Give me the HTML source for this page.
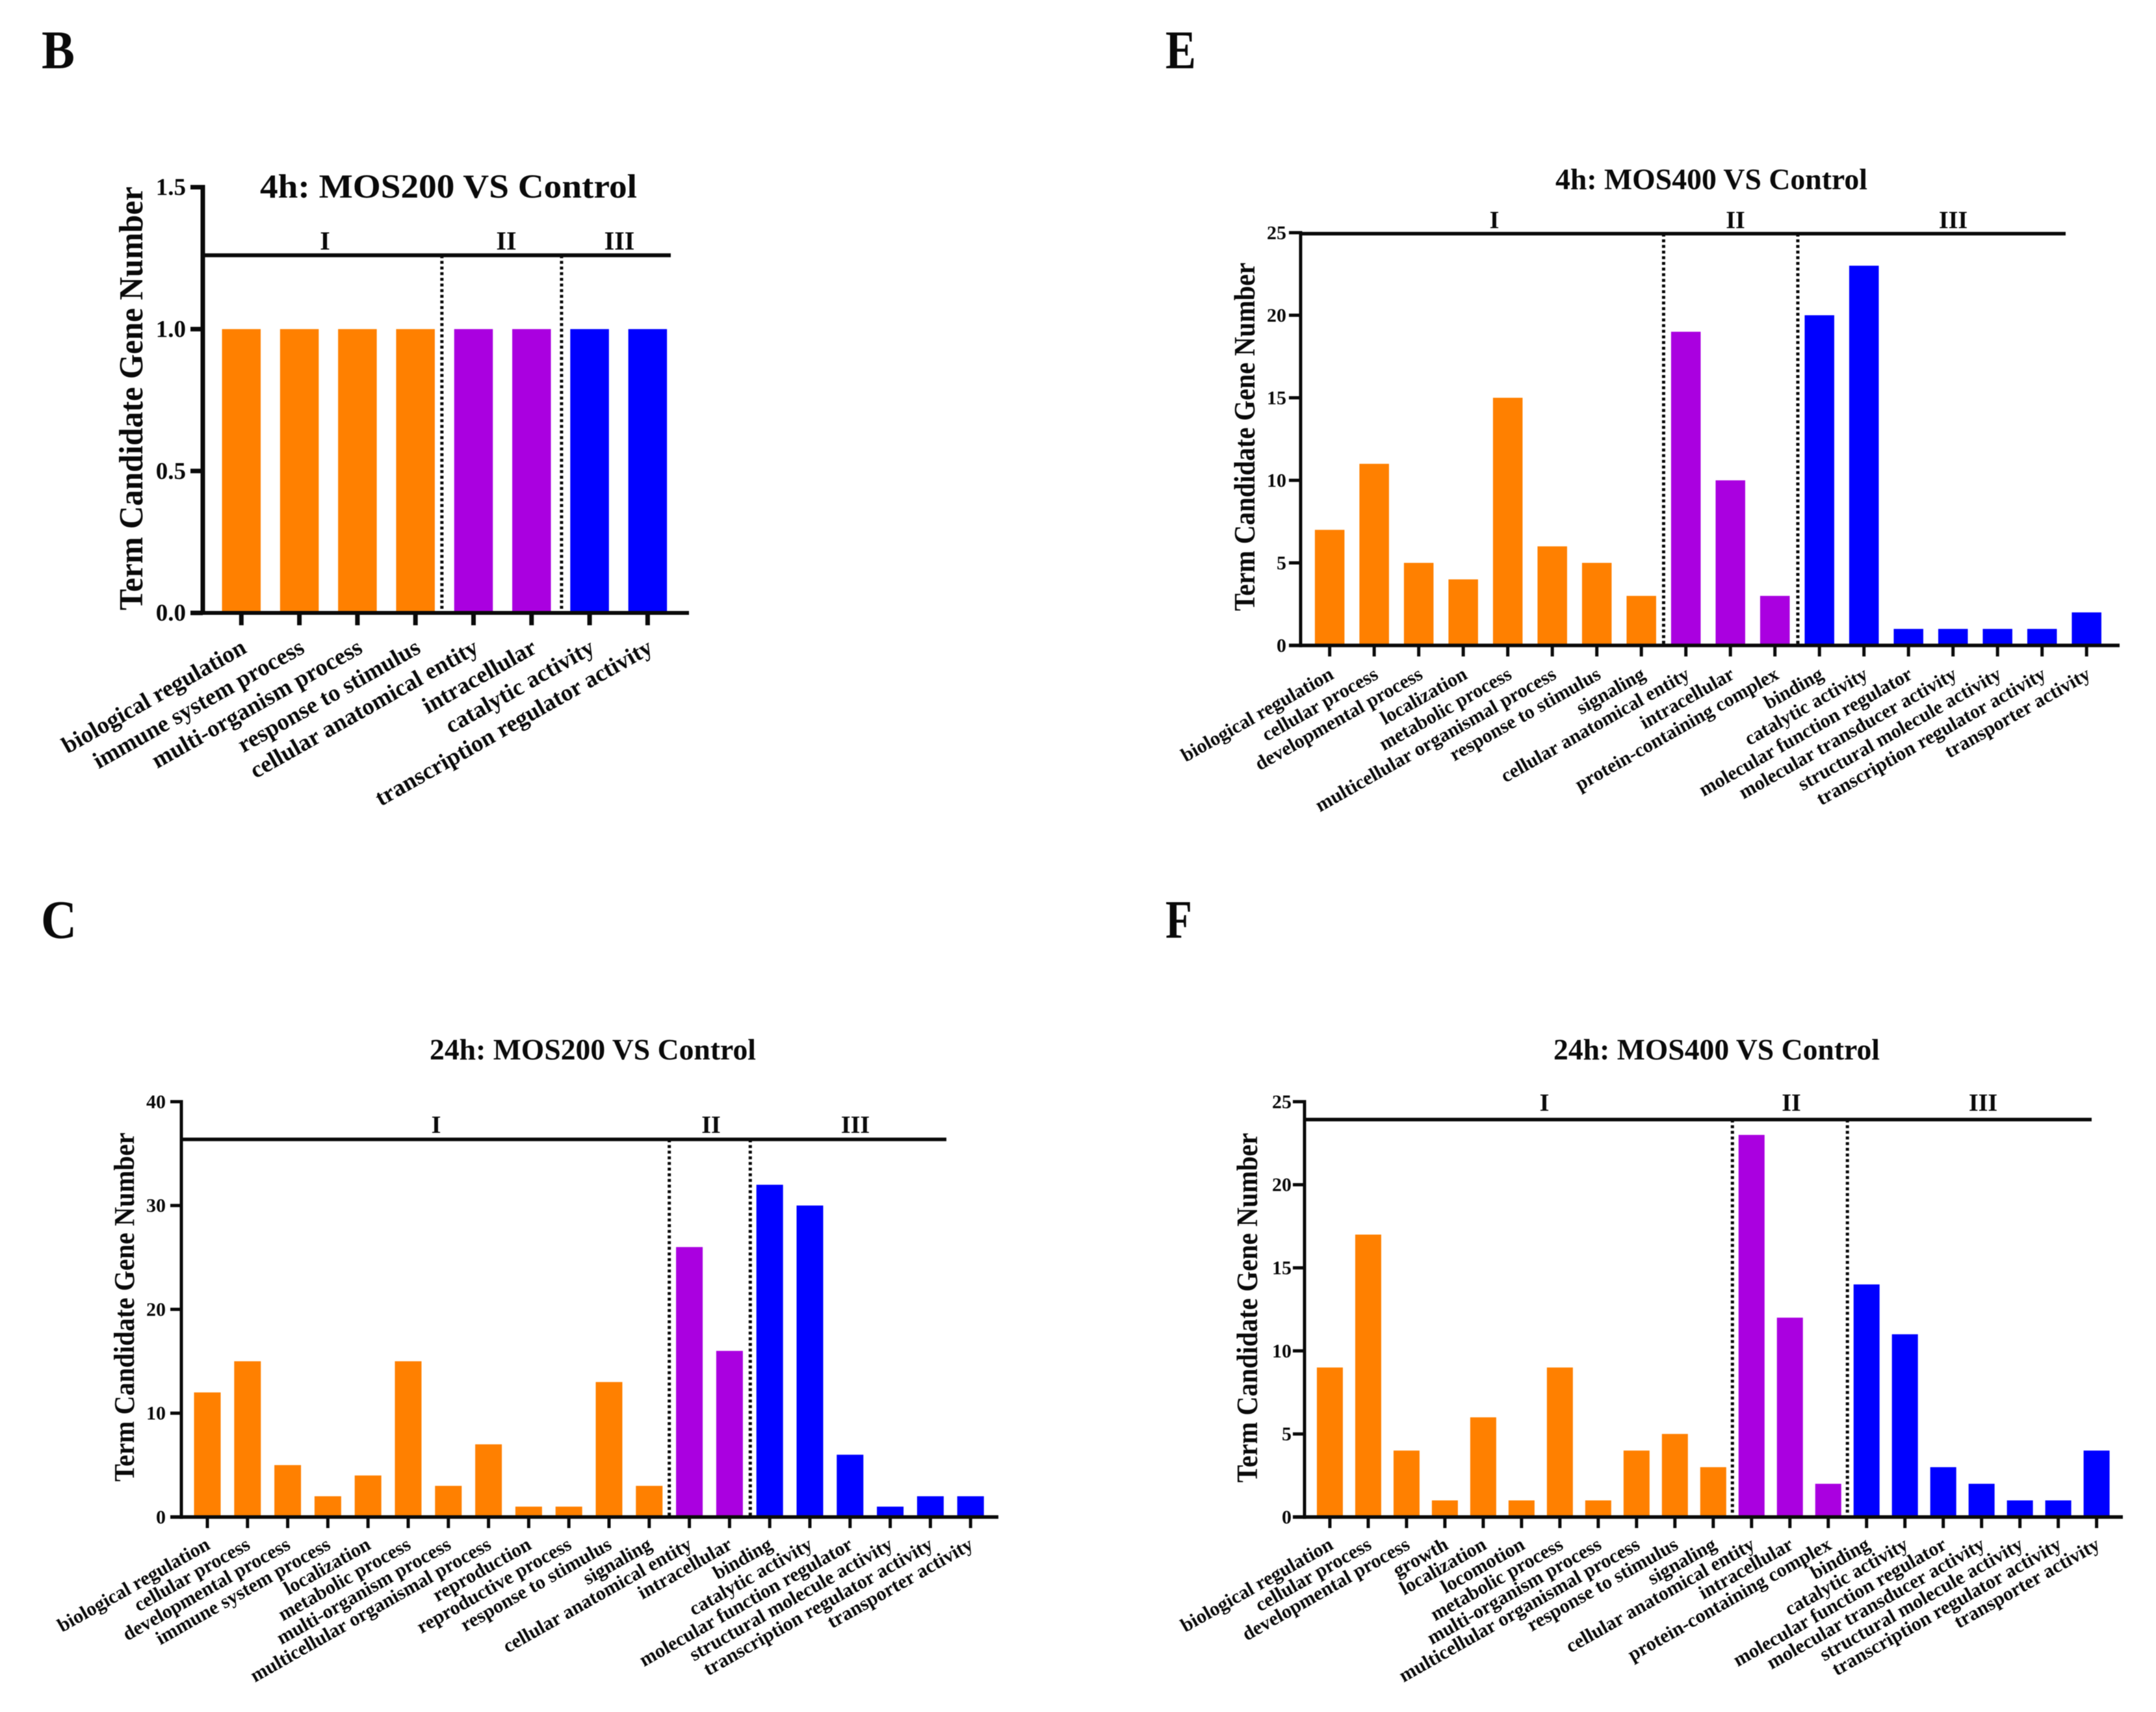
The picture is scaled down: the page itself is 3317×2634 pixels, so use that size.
<!DOCTYPE html>
<html lang="en">
<head>
<meta charset="utf-8">
<title>GO term candidate gene numbers</title>
<style>
html,body{margin:0;padding:0;background:#fff;width:3317px;height:2634px;overflow:hidden}
svg{display:block;filter:blur(0.6px)}
text{font-family:"Liberation Serif","DejaVu Serif",serif;font-weight:bold;fill:#0a0a0a}
</style>
</head>
<body>
<svg id="figure" xmlns="http://www.w3.org/2000/svg" width="3317" height="2634" viewBox="0 0 3317 2634">
<rect x="0" y="0" width="3317" height="2634" fill="#ffffff"/>
<text x="64" y="105" font-size="84" textLength="51" lengthAdjust="spacingAndGlyphs">B</text>
<text x="1793" y="105" font-size="84" textLength="47" lengthAdjust="spacingAndGlyphs">E</text>
<text x="63" y="1443" font-size="84" textLength="55" lengthAdjust="spacingAndGlyphs">C</text>
<text x="1793" y="1443" font-size="84" textLength="41" lengthAdjust="spacingAndGlyphs">F</text>
</svg>
<script>
const COLORS = {I:'#ff8000', II:'#aa00e0', III:'#0000ff'};

const categoriesB = ['biological regulation','immune system process','multi-organism process','response to stimulus','cellular anatomical entity','intracellular','catalytic activity','transcription regulator activity'];
const valuesB = [1,1,1,1,1,1,1,1];
const groupsB = ['I','I','I','I','II','II','III','III'];
const ticksB = ['0.0','0.5','1.0','1.5'];

const categoriesE = ['biological regulation','cellular process','developmental process','localization','metabolic process','multicellular organismal process','response to stimulus','signaling','cellular anatomical entity','intracellular','protein-containing complex','binding','catalytic activity','molecular function regulator','molecular transducer activity','structural molecule activity','transcription regulator activity','transporter activity'];
const valuesE = [7,11,5,4,15,6,5,3,19,10,3,20,23,1,1,1,1,2];
const groupsE = ['I','I','I','I','I','I','I','I','II','II','II','III','III','III','III','III','III','III'];
const ticksE = ['0','5','10','15','20','25'];

const categoriesC = ['biological regulation','cellular process','developmental process','immune system process','localization','metabolic process','multi-organism process','multicellular organismal process','reproduction','reproductive process','response to stimulus','signaling','cellular anatomical entity','intracellular','binding','catalytic activity','molecular function regulator','structural molecule activity','transcription regulator activity','transporter activity'];
const valuesC = [12,15,5,2,4,15,3,7,1,1,13,3,26,16,32,30,6,1,2,2];
const groupsC = ['I','I','I','I','I','I','I','I','I','I','I','I','II','II','III','III','III','III','III','III'];
const ticksC = ['0','10','20','30','40'];

const categoriesF = ['biological regulation','cellular process','developmental process','growth','localization','locomotion','metabolic process','multi-organism process','multicellular organismal process','response to stimulus','signaling','cellular anatomical entity','intracellular','protein-containing complex','binding','catalytic activity','molecular function regulator','molecular transducer activity','structural molecule activity','transcription regulator activity','transporter activity'];
const valuesF = [9,17,4,1,6,1,9,1,4,5,3,23,12,2,14,11,3,2,1,1,4];
const groupsF = ['I','I','I','I','I','I','I','I','I','I','I','II','II','II','III','III','III','III','III','III','III'];
const ticksF = ['0','5','10','15','20','25'];

const NS = 'http://www.w3.org/2000/svg';
const root = document.getElementById('figure');

function make(parent, tag, props, content) {
  const el = document.createElementNS(NS, tag);
  for (const k in props) el.setAttribute(k, props[k]);
  if (content !== undefined) el.textContent = content;
  parent.appendChild(el);
  return el;
}

function drawPanel(p, categories, values, groups, ticks) {
  const g = make(root, 'g', {});
  
  

  const yMax = parseFloat(ticks[ticks.length - 1]);
  const yScale = v => p.yZero - (v / yMax) * (p.yZero - p.yTop);
  const xScale = i => p.xFirst + i * p.step;

  // bars
  values.forEach((v, i) => {
    const bar = make(g, 'rect', {
      x: xScale(i) - p.barW / 2, y: yScale(v),
      width: p.barW, height: p.yZero - yScale(v),
      fill: COLORS[groups[i]]
    });
    
    
  });

  // group bracket line
  const bracket = make(g, 'line', {x1: p.xAxis, x2: p.lineEnd, y1: p.lineY, y2: p.lineY, stroke: '#0a0a0a', 'stroke-width': p.lineW});
  
  

  // group dividers, derived from where the group changes
  let dividerCount = 0;
  groups.forEach((grp, i) => {
    if (i > 0 && groups[i - 1] !== grp) {
      const nudge = dividerCount === 0 ? p.nudgeFirst : p.nudgeSecond;
      dividerCount += 1;
      const dx = xScale(i - 0.5) + nudge;
      const divider = make(g, 'line', {x1: dx, x2: dx, y1: p.lineY, y2: p.yZero, stroke: '#0a0a0a', 'stroke-width': 5, 'stroke-dasharray': '4.5 4.2'});
      
      
    }
  });

  // group labels
  const labelI = make(g, 'text', {x: p.labelIx, y: p.labelY, 'text-anchor': 'middle', 'font-size': p.groupFont}, 'I');
  
  
  const labelII = make(g, 'text', {x: p.labelIIx, y: p.labelY, 'text-anchor': 'middle', 'font-size': p.groupFont}, 'II');
  
  
  const labelIII = make(g, 'text', {x: p.labelIIIx, y: p.labelY, 'text-anchor': 'middle', 'font-size': p.groupFont}, 'III');
  
  

  // axes
  const yAxis = make(g, 'line', {x1: p.xAxis, x2: p.xAxis, y1: p.yTop - p.axisW / 2, y2: p.yZero + p.xAxisW / 2, stroke: '#0a0a0a', 'stroke-width': p.axisW});
  
  
  const xAxis = make(g, 'line', {x1: p.tickLeft, x2: p.xEnd, y1: p.yZero, y2: p.yZero, stroke: '#0a0a0a', 'stroke-width': p.xAxisW});
  
  

  // y ticks
  ticks.forEach(t => {
    const y = yScale(parseFloat(t));
    const tick = make(g, 'line', {x1: p.tickLeft, x2: p.xAxis, y1: y, y2: y, stroke: '#0a0a0a', 'stroke-width': p.axisW});
    
    
    const label = make(g, 'text', {x: p.tickLabelX, y: y + p.tickFont * 0.33, 'text-anchor': 'end', 'font-size': p.tickFont}, t);
    
    
  });

  // x ticks and rotated category labels
  categories.forEach((c, i) => {
    const x = xScale(i);
    const tick = make(g, 'line', {x1: x, x2: x, y1: p.yZero, y2: p.yZero + p.tickLen, stroke: '#0a0a0a', 'stroke-width': p.tickW});
    
    
    const lx = x + p.labelDx, ly = p.yZero + p.labelDy;
    const label = make(g, 'text', {x: lx, y: ly, 'text-anchor': 'end', 'font-size': p.catFont, transform: 'rotate(-29.5 ' + lx + ' ' + ly + ')'}, c);
    
    
  });

  // title
  const title = make(g, 'text', {x: p.titleX, y: p.titleY, 'text-anchor': 'middle', 'font-size': p.titleFont, textLength: p.titleW, lengthAdjust: 'spacingAndGlyphs'}, p.title);
  
  

  // y axis title
  const yt = make(g, 'text', {x: p.yTitleX, y: p.yTitleY, 'text-anchor': 'middle', 'font-size': p.yTitleFont, textLength: p.yTitleW, lengthAdjust: 'spacingAndGlyphs', transform: 'rotate(-90 ' + p.yTitleX + ' ' + p.yTitleY + ')'}, 'Term Candidate Gene Number');
  
  
}

drawPanel({
  name:'panel-b-chart', title:'4h: MOS200 VS Control',
  xAxis:312, xEnd:1060, tickLeft:293, yZero:943, yTop:288, xFirst:371.3, step:89.3, barW:59.5,
  lineY:392.7, lineEnd:1032, lineW:6, axisW:7, xAxisW:6, tickW:7, tickLen:19, tickLabelX:286, tickFont:37,
  nudgeFirst:-4, nudgeSecond:1.5,
  labelIx:500, labelIIx:779, labelIIIx:953, labelY:384, groupFont:40,
  labelDx:10, labelDy:60, catFont:36.5,
  titleX:690, titleY:304, titleFont:52, titleW:580,
  yTitleX:219, yTitleY:613, yTitleFont:52, yTitleW:652
}, categoriesB, valuesB, groupsB, ticksB);

drawPanel({
  name:'panel-e-chart', title:'4h: MOS400 VS Control',
  xAxis:2001, xEnd:3261, tickLeft:1983, yZero:993, yTop:358, xFirst:2045.7, step:68.5, barW:45.5,
  lineY:359.5, lineEnd:3178, lineW:5.5, axisW:5, xAxisW:5.5, tickW:5, tickLen:17, tickLabelX:1979, tickFont:30,
  nudgeFirst:0, nudgeSecond:1,
  labelIx:2299, labelIIx:2670, labelIIIx:3005, labelY:351, groupFont:38,
  labelDx:8, labelDy:50, catFont:30.2,
  titleX:2633, titleY:291, titleFont:46, titleW:480,
  yTitleX:1930, yTitleY:672, yTitleFont:46, yTitleW:536
}, categoriesE, valuesE, groupsE, ticksE);

drawPanel({
  name:'panel-c-chart', title:'24h: MOS200 VS Control',
  xAxis:279, xEnd:1536, tickLeft:262, yZero:2334, yTop:1695, xFirst:319, step:61.8, barW:41,
  lineY:1753, lineEnd:1456, lineW:5.5, axisW:5, xAxisW:5.5, tickW:5, tickLen:17, tickLabelX:255, tickFont:30,
  nudgeFirst:0, nudgeSecond:1,
  labelIx:671, labelIIx:1094, labelIIIx:1316, labelY:1743, groupFont:38,
  labelDx:6, labelDy:48, catFont:30.2,
  titleX:912, titleY:1630, titleFont:46, titleW:502,
  yTitleX:206, yTitleY:2011, yTitleFont:44, yTitleW:537
}, categoriesC, valuesC, groupsC, ticksC);

drawPanel({
  name:'panel-f-chart', title:'24h: MOS400 VS Control',
  xAxis:2007, xEnd:3266, tickLeft:1989, yZero:2334, yTop:1695, xFirst:2046, step:58.98, barW:40,
  lineY:1722.5, lineEnd:3218, lineW:5.5, axisW:5, xAxisW:5.5, tickW:5, tickLen:17, tickLabelX:1987, tickFont:30,
  nudgeFirst:0, nudgeSecond:0,
  labelIx:2376, labelIIx:2756, labelIIIx:3051, labelY:1709, groupFont:38,
  labelDx:7, labelDy:48, catFont:30.2,
  titleX:2641, titleY:1630, titleFont:46, titleW:502,
  yTitleX:1934, yTitleY:2012, yTitleFont:46, yTitleW:538
}, categoriesF, valuesF, groupsF, ticksF);
</script>
</body>
</html>
